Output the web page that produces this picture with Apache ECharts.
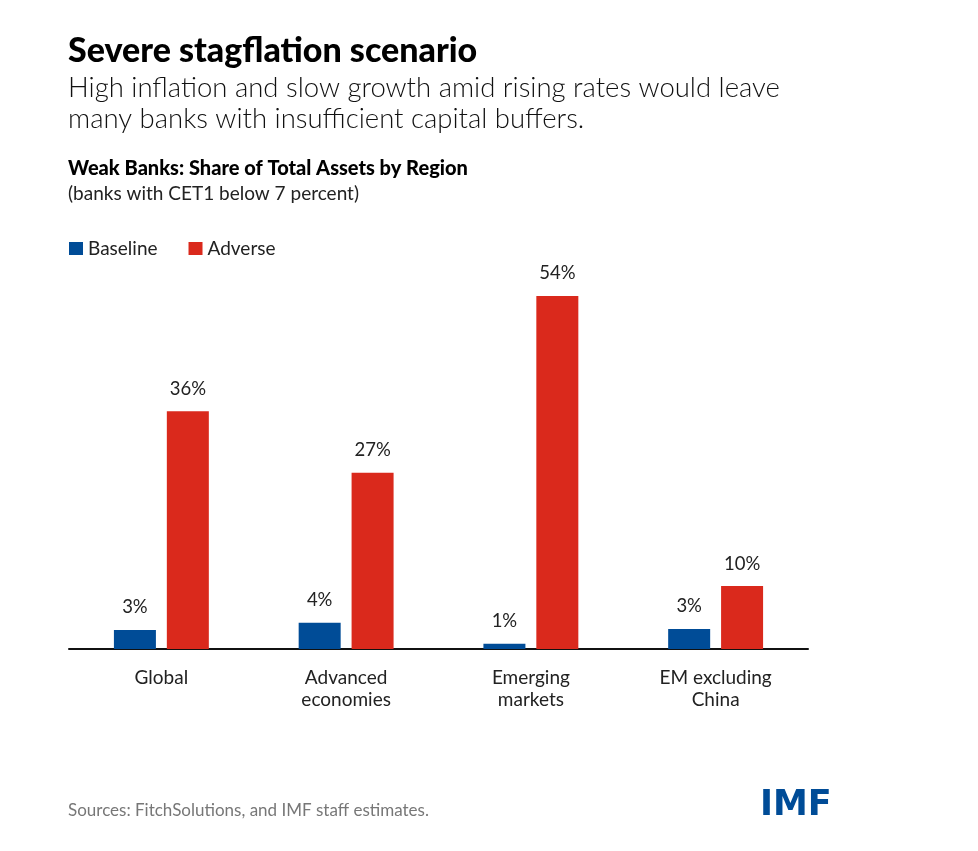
<!DOCTYPE html>
<html>
<head>
<meta charset="utf-8">
<title>Severe stagflation scenario</title>
<style>
html,body{margin:0;padding:0;background:#fff;}
#main{width:978px;height:851px;}
</style>
<script src="https://cdn.jsdelivr.net/npm/echarts@6/dist/echarts.min.js"></script>
</head>
<body>
<div id="main"></div>
<script>
var categories=['Global','Advanced\neconomies','Emerging\nmarkets','EM excluding\nChina'];
var baseline=[2.9,4.0,0.8,3.05];
var adverse=[36.3,26.9,53.9,9.6];

var chart=echarts.init(document.getElementById('main'));
var font='Lato';

function text(x,y,str,size,color,weight){
    return {
        type:'text',left:x,top:y,
        style:{text:str,font:(weight||'normal')+' '+size+'px '+font,fill:color||'#111'}
    };
}

function barLabel(p){
    return Math.round(p.value)+'%';
}

chart.setOption({
    animation:false,
    backgroundColor:'#fff',
    textStyle:{fontFamily:font},
    legend:{
        left:64,top:234,
        itemWidth:14,itemHeight:13,itemGap:31,
        icon:'rect',
        textStyle:{fontSize:19,color:'#222'},
        data:['Baseline','Adverse']
    },
    grid:{left:69,width:739,top:256,height:393},
    xAxis:{
        type:'category',
        data:categories,
        axisTick:{show:false},
        axisLine:{lineStyle:{color:'#111',width:2}},
        axisLabel:{color:'#222',fontSize:19,lineHeight:22,margin:18}
    },
    yAxis:{type:'value',min:0,max:60,show:false},
    series:[
        {
            name:'Baseline',type:'bar',data:baseline,
            barWidth:42,barGap:'26%',
            itemStyle:{color:'#004c97'},
            label:{show:true,position:'top',distance:13,fontSize:18.5,color:'#222',formatter:barLabel}
        },
        {
            name:'Adverse',type:'bar',data:adverse,
            barWidth:42,
            itemStyle:{color:'#da291c'},
            label:{show:true,position:'top',distance:13,fontSize:18.5,color:'#222',formatter:barLabel}
        }
    ],
    graphic:[
        text(68,34,'Severe stagflation scenario',34,'#000','900'),
        text(68,74,'High inflation and slow growth amid rising rates would leave',27.5,'#111','300'),
        text(68,105,'many banks with insufficient capital buffers.',27.5,'#111','300'),
        text(68,159,'Weak Banks: Share of Total Assets by Region',20,'#000','900'),
        text(68,184,'(banks with CET1 below 7 percent)',19,'#222','normal'),
        text(68,802,'Sources: FitchSolutions, and IMF staff estimates.',17,'#777','normal'),
        {
            type:'text',left:760,top:788,
            style:{text:'IMF',font:'bold 35px "DejaVu Sans"',fill:'#004c97'}
        }
    ]
});
</script>
</body>
</html>
